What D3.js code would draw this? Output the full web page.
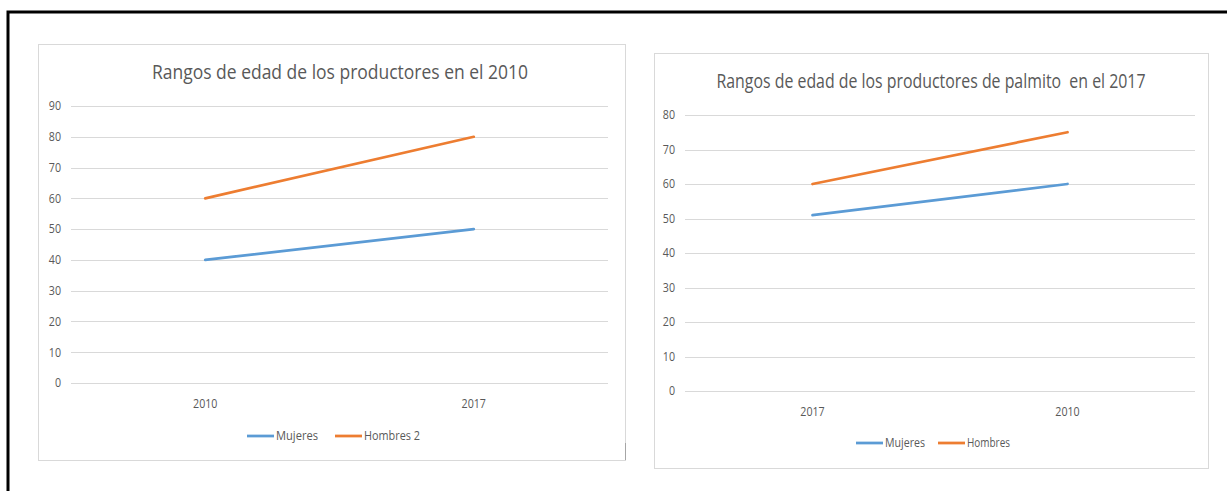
<!DOCTYPE html>
<html>
<head>
<meta charset="utf-8">
<script src="https://cdn.jsdelivr.net/npm/d3@7"></script>
<style>
  body { margin: 0; background: #fff; }
  text { font-family: "Open Sans", "DejaVu Sans", sans-serif; fill: #595959; }
</style>
</head>
<body>
<script>
// Data for the left chart (2010)
var leftTitle = "Rangos de edad de los productores en el 2010";
var leftCategories = ["2010", "2017"];
var leftMujeres = [40, 50];
var leftHombres = [60, 80];
var leftTicks = [0, 10, 20, 30, 40, 50, 60, 70, 80, 90];
var leftLegend = ["Mujeres", "Hombres 2"];

// Data for the right chart (2017)
var rightTitle = "Rangos de edad de los productores de palmito  en el 2017";
var rightCategories = ["2017", "2010"];
var rightMujeres = [51, 60];
var rightHombres = [60, 75];
var rightTicks = [0, 10, 20, 30, 40, 50, 60, 70, 80];
var rightLegend = ["Mujeres", "Hombres"];

var colors = ["#5B9BD5", "#ED7D31"];

var svg = d3.select("body").append("svg")
  .attr("width", 1227)
  .attr("height", 491);

// outer black frame (only top and left edges show)
svg.append("rect")
  .attr("x", 8).attr("y", 12)
  .attr("width", 1240).attr("height", 500)
  .attr("fill", "none")
  .attr("stroke", "#000")
  .attr("stroke-width", 3);

// narrow the digits a bit, like Calibri
function digitW(d) { return String(d).length * 6.1; }

function drawPanel(cfg) {
  var g = svg.append("g");

  // panel border
  g.append("rect")
    .attr("x", cfg.box[0] + 0.5).attr("y", cfg.box[1] + 0.5)
    .attr("width", cfg.box[2]).attr("height", cfg.box[3])
    .attr("fill", "#fff")
    .attr("stroke", "#D9D9D9");

  var x = d3.scaleBand().domain(cfg.categories).range([cfg.plot[0], cfg.plot[1]]);
  var y = d3.scaleLinear().domain([0, d3.max(cfg.ticks)]).range([cfg.plot[3], cfg.plot[2]]);

  // gridlines
  g.selectAll(".grid").data(cfg.ticks).enter().append("line")
    .attr("x1", cfg.plot[0]).attr("x2", cfg.plot[1])
    .attr("y1", function(d) { return Math.round(y(d)) + 0.5; })
    .attr("y2", function(d) { return Math.round(y(d)) + 0.5; })
    .attr("stroke", "#D9D9D9");

  // y labels
  g.selectAll(".ylab").data(cfg.ticks).enter().append("text")
    .attr("x", cfg.plot[0] - 10)
    .attr("y", function(d) { return y(d); })
    .attr("dy", "0.36em")
    .attr("text-anchor", "end")
    .attr("textLength", digitW)
    .attr("lengthAdjust", "spacingAndGlyphs")
    .style("font-size", "12px")
    .text(function(d) { return d; });

  // x labels
  g.selectAll(".xlab").data(cfg.categories).enter().append("text")
    .attr("x", function(d) { return x(d) + x.bandwidth() / 2; })
    .attr("y", cfg.plot[3] + 25)
    .attr("text-anchor", "middle")
    .attr("textLength", digitW)
    .attr("lengthAdjust", "spacingAndGlyphs")
    .style("font-size", "12px")
    .text(function(d) { return d; });

  // title
  g.append("text")
    .attr("x", cfg.titleX).attr("y", cfg.titleY)
    .attr("text-anchor", "middle")
    .attr("xml:space", "preserve")
    .attr("textLength", cfg.titleW)
    .attr("lengthAdjust", "spacingAndGlyphs")
    .style("font-size", "19.5px")
    .text(cfg.title);

  // series lines
  var line = d3.line()
    .x(function(d, i) { return x(cfg.categories[i]) + x.bandwidth() / 2; })
    .y(function(d) { return y(d); });
  [cfg.mujeres, cfg.hombres].forEach(function(s, i) {
    g.append("path")
      .attr("d", line(s))
      .attr("fill", "none")
      .attr("stroke", colors[i])
      .attr("stroke-width", 2.75)
      .attr("stroke-linecap", "round");
  });

  // legend
  cfg.legend.forEach(function(name, i) {
    var lx = cfg.legendX[i];
    g.append("line")
      .attr("x1", lx).attr("x2", lx + 27)
      .attr("y1", cfg.legendY).attr("y2", cfg.legendY)
      .attr("stroke", colors[i])
      .attr("stroke-width", 2.75);
    g.append("text")
      .attr("x", lx + 29).attr("y", cfg.legendY)
      .attr("dy", "0.36em")
      .attr("textLength", cfg.legendW[i])
      .attr("lengthAdjust", "spacingAndGlyphs")
      .style("font-size", "12px")
      .text(name);
  });
}

drawPanel({
  box: [38, 44, 587, 416],
  plot: [71, 608, 106, 383],
  categories: leftCategories,
  mujeres: leftMujeres,
  hombres: leftHombres,
  ticks: leftTicks,
  title: leftTitle,
  titleX: 340, titleY: 79, titleW: 376,
  legend: leftLegend,
  legendX: [247, 335],
  legendY: 436,
  legendW: [42, 56]
});

// small darker stroke at the bottom right of the left panel
svg.append("line")
  .attr("x1", 625.5).attr("x2", 625.5)
  .attr("y1", 443).attr("y2", 460)
  .attr("stroke", "#A6A6A6");

drawPanel({
  box: [654, 53, 554, 415],
  plot: [685, 1195, 115, 391],
  categories: rightCategories,
  mujeres: rightMujeres,
  hombres: rightHombres,
  ticks: rightTicks,
  title: rightTitle,
  titleX: 931, titleY: 88, titleW: 429,
  legend: rightLegend,
  legendX: [856, 938],
  legendY: 443,
  legendW: [40, 43]
});
</script>
</body>
</html>
